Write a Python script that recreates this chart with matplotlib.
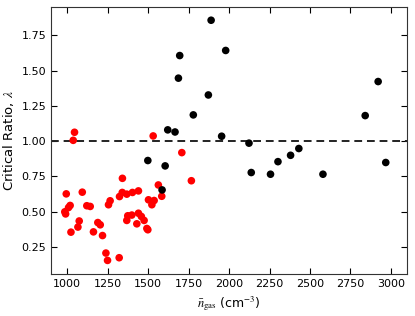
import matplotlib
matplotlib.use('Agg')
import matplotlib.pyplot as plt
import numpy as np

plt.rcParams['mathtext.fontset'] = 'stix'

# subcritical clouds (red)
n_red = [1045, 1037, 1531, 1708, 1767, 1563, 1584, 994, 1093, 1341,
         985, 990, 1008, 1018, 1023, 1074, 1066, 1121, 1142, 1162,
         1189, 1204, 1218, 1239, 1249, 1255, 1265, 1321, 1323, 1340,
         1368, 1403, 1440, 1374, 1368, 1399, 1430, 1440, 1458, 1475,
         1492, 1498, 1502, 1523, 1537]
lam_red = [1.063, 1.006, 1.037, 0.919, 0.720, 0.690, 0.610, 0.627, 0.639, 0.737,
           0.500, 0.485, 0.530, 0.545, 0.356, 0.435, 0.392, 0.543, 0.538, 0.358,
           0.424, 0.408, 0.332, 0.208, 0.156, 0.550, 0.578, 0.175, 0.608, 0.637,
           0.625, 0.637, 0.648, 0.472, 0.439, 0.477, 0.415, 0.490, 0.467, 0.439,
           0.382, 0.373, 0.585, 0.550, 0.580]

# supercritical clouds (black)
n_blk = [1889, 1979, 1695, 1687, 1872, 1779, 1621, 1666, 1954, 1498,
         1605, 1586, 2123, 2137, 2256, 2302, 2380, 2431, 2921, 2841,
         2580, 2968]
lam_blk = [1.856, 1.642, 1.606, 1.446, 1.327, 1.186, 1.080, 1.065, 1.035, 0.863,
           0.825, 0.655, 0.986, 0.778, 0.766, 0.855, 0.900, 0.948, 1.422, 1.181,
           0.766, 0.849]

fig = plt.figure(figsize=(4.15, 3.16), dpi=100)
ax = fig.add_axes([0.123, 0.133, 0.858, 0.845])

ax.scatter(n_red, lam_red, s=30, c='red', edgecolors='none', zorder=3)
ax.scatter(n_blk, lam_blk, s=30, c='black', edgecolors='none', zorder=3)
ax.axhline(1.0, color='#222222', ls='--', lw=1.4, dashes=(4, 2.5), zorder=2)

ax.set_xlim(900, 3100)
ax.set_ylim(0.06, 1.95)
ax.set_xticks([1000, 1250, 1500, 1750, 2000, 2250, 2500, 2750, 3000])
ax.set_yticks([0.25, 0.5, 0.75, 1.0, 1.25, 1.5, 1.75])
ax.tick_params(direction='in', top=True, right=True, labelsize=8, length=4, width=0.8)
for s in ax.spines.values():
    s.set_color('#333333')

ax.set_xlabel(r'$\bar{n}_{\rm gas}$ (cm$^{-3}$)', fontsize=9)
ax.set_ylabel(r'Critical Ratio, $\lambda$', fontsize=9.5)

fig.savefig('out.png', dpi=100)
